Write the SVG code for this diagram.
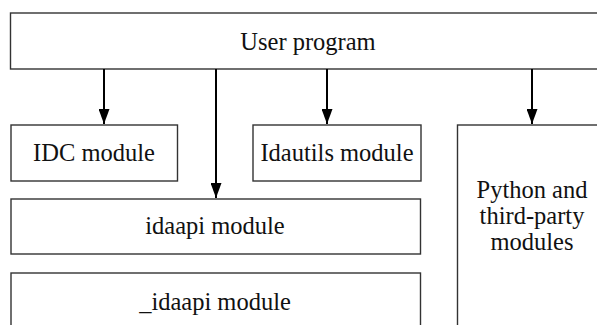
<svg xmlns="http://www.w3.org/2000/svg" width="597" height="325" viewBox="0 0 597 325">
<style>
.box{fill:#fff;stroke:#333;stroke-width:1.4}
.c{stroke:#000;stroke-width:2;fill:none}
text{font-family:'Liberation Serif','Times New Roman',serif;font-size:24.5px;fill:#111;text-anchor:middle}
</style>
<defs>
<marker id="arr" markerUnits="userSpaceOnUse" markerWidth="16" markerHeight="11" refX="15" refY="5.5" orient="auto" viewBox="0 0 16 11">
<path d="M0,0 L15,5.5 L0,11 Z" fill="#000"/>
</marker>
</defs>
<rect width="597" height="325" fill="#fff"/>
<g id="user-program">
<rect class="box" x="10.5" y="13" width="600" height="56"/>
<text x="308" y="50">User program</text>
</g>
<g id="idc-module">
<rect class="box" x="11" y="125" width="166.5" height="56"/>
<text x="94" y="161">IDC module</text>
</g>
<g id="idautils-module">
<rect class="box" x="253" y="125" width="168" height="56"/>
<text x="337" y="161">Idautils module</text>
</g>
<g id="python-modules">
<rect class="box" x="457.5" y="125" width="160" height="220"/>
<text x="532" y="198">Python and</text>
<text x="532" y="224">third-party</text>
<text x="532" y="250">modules</text>
</g>
<g id="idaapi-module">
<rect class="box" x="11" y="199" width="409.5" height="55"/>
<text x="215" y="234">idaapi module</text>
</g>
<g id="_idaapi-module">
<rect class="box" x="11" y="273" width="409.5" height="70"/>
<text x="215" y="310">_idaapi module</text>
</g>
<g id="connectors">
<line class="c" x1="104" y1="69" x2="104" y2="124" marker-end="url(#arr)"/>
<line class="c" x1="216" y1="69" x2="216" y2="198" marker-end="url(#arr)"/>
<line class="c" x1="327" y1="69" x2="327" y2="124" marker-end="url(#arr)"/>
<line class="c" x1="532" y1="69" x2="532" y2="124" marker-end="url(#arr)"/>
</g>
</svg>
